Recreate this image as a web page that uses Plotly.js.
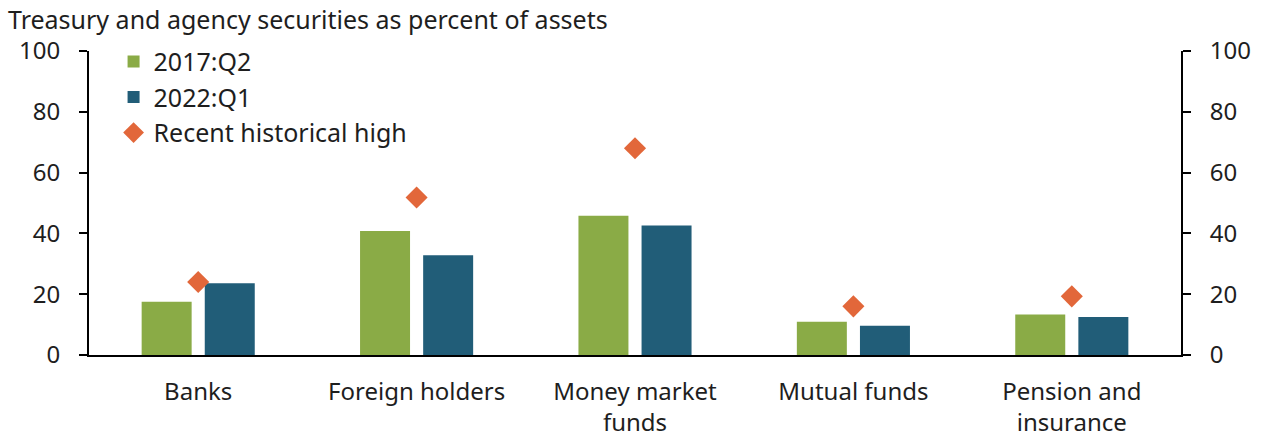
<!DOCTYPE html>
<html>
<head>
<meta charset="utf-8">
<script src="https://cdn.plot.ly/plotly-3.0.1.min.js"></script>
<style>html,body{margin:0;padding:0;background:#fff;}#chart{width:1262px;height:437px;}</style>
</head>
<body>
<div id="chart"></div>
<script>
const categories = ["Banks", "Foreign holders", "Money market<br>funds", "Mutual funds", "Pension and<br>insurance"];
const values2017Q2 = [17.5, 40.8, 45.8, 10.9, 13.3];
const values2022Q1 = [23.6, 32.8, 42.6, 9.6, 12.5];
const historicalHigh = [24.0, 51.8, 68.0, 16.0, 19.3];
const yTicks = [0, 20, 40, 60, 80, 100];

const FONT = "Noto Sans, sans-serif";
const traces = [
  {type: "bar", name: "2017:Q2", x: categories, y: values2017Q2, marker: {color: "#8aab46"}},
  {type: "bar", name: "2022:Q1", x: categories, y: values2022Q1, marker: {color: "#215d78"}},
  {type: "scatter", mode: "markers", name: "Recent historical high", x: categories, y: historicalHigh,
   marker: {symbol: "diamond", color: "#e2673a", size: 17}},
  {type: "scatter", mode: "markers", x: categories, y: historicalHigh, yaxis: "y2", showlegend: false,
   hoverinfo: "skip", marker: {opacity: 0}}
];
const layout = {
  width: 1262, height: 437,
  margin: {l: 89, r: 81, t: 51, b: 82},
  paper_bgcolor: "#fff", plot_bgcolor: "#fff",
  font: {family: FONT, size: 24, color: "#1e1e1e"},
  title: {text: "Treasury and agency securities as percent of assets", x: 8/1262, xref: "container", xanchor: "left",
          y: 1 - 20/437, yref: "container", yanchor: "middle", font: {family: FONT, size: 25, color: "#1e1e1e"}},
  barmode: "group", bargap: 0.422, bargroupgap: 0.208,
  xaxis: {range: [-0.5, 4.5], showline: true, linecolor: "#000", linewidth: 2, ticks: "", showgrid: false,
          tickfont: {family: FONT, size: 24, color: "#1e1e1e"}, ticklabelstandoff: 14, fixedrange: true},
  yaxis: {range: [0, 100], tickvals: yTicks, ticks: "outside", ticklen: 8, tickwidth: 2, tickcolor: "#000",
          showline: true, linecolor: "#000", linewidth: 2, showgrid: false, zeroline: false,
          tickfont: {family: FONT, size: 24, color: "#1e1e1e"}, ticklabelstandoff: 14},
  yaxis2: {range: [0, 100], tickvals: yTicks, overlaying: "y", side: "right", ticks: "outside", ticklen: 8, tickwidth: 2,
           tickcolor: "#000", showline: true, linecolor: "#000", linewidth: 2, showgrid: false, zeroline: false,
           tickfont: {family: FONT, size: 24, color: "#1e1e1e"}, ticklabelstandoff: 14},
  legend: {x: 0.0225, y: 1.04, xanchor: "left", yanchor: "top", bgcolor: "rgba(0,0,0,0)",
           font: {family: FONT, size: 25, color: "#1e1e1e"}, tracegroupgap: 0, itemwidth: 30},
  showlegend: true
};
Plotly.newPlot("chart", traces, layout, {displayModeBar: false, staticPlot: true});
</script>
</body>
</html>
